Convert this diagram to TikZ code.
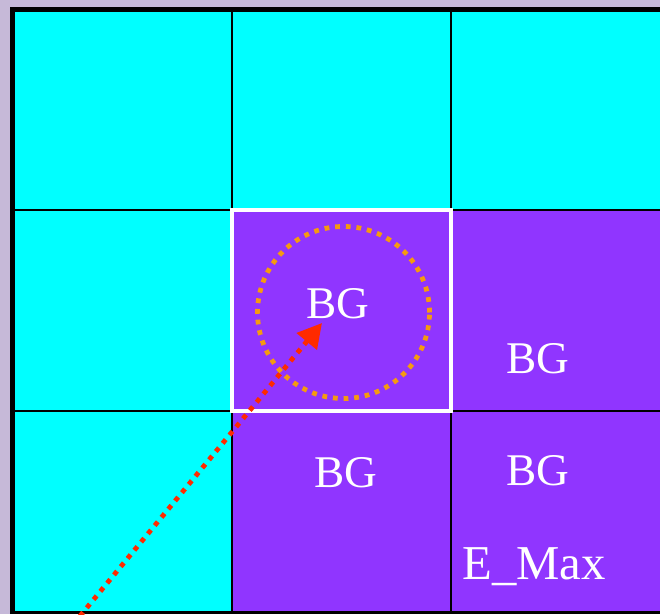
\documentclass[tikz,border=0pt]{standalone}
\usepackage{fontspec}
\setmainfont{Liberation Serif}
\usetikzlibrary{arrows.meta}
\definecolor{bgl}{HTML}{C6B9D8}
\definecolor{cy}{HTML}{00FFFF}
\definecolor{pu}{HTML}{9035FF}
\definecolor{rd}{HTML}{FF2A00}
\definecolor{org}{HTML}{F59A10}
\tikzset{
  cyancell/.style={fill=cy},
  purplecell/.style={fill=pu},
  gridline/.style={draw=black, line width=2pt},
  lbl/.style={text=white, font=\fontsize{34}{36}\selectfont, inner sep=0pt},
  dotline/.style={line width=3.6pt, dash pattern=on 3.6pt off 4.4pt}
}
\begin{document}
\begin{tikzpicture}[x=0.75pt,y=-0.75pt]
\useasboundingbox (0,0) rectangle (660,614);
\fill[bgl] (0,0) rectangle (660,614);
\begin{scope}
\clip (0,0) rectangle (660,614);
% cells
\fill[cyancell] (12,10) rectangle (232,210);
\fill[cyancell] (232,10) rectangle (451,210);
\fill[cyancell] (451,10) rectangle (680,210);
\fill[cyancell] (12,210) rectangle (232,411);
\fill[purplecell] (232,210) rectangle (451,411);
\fill[purplecell] (451,210) rectangle (680,411);
\fill[cyancell] (12,411) rectangle (232,612);
\fill[purplecell] (232,411) rectangle (451,612);
\fill[purplecell] (451,411) rectangle (680,612);
% grid
\draw[gridline] (232,10) -- (232,612);
\draw[gridline] (451,10) -- (451,612);
\draw[gridline] (12,210) -- (680,210);
\draw[gridline] (12,411) -- (680,411);
\draw[black, line width=2.4pt] (12,612.5) -- (680,612.5);
\draw[black, line width=4pt] (10,9.5) -- (680,9.5);
\draw[black, line width=4pt] (12.5,7) -- (12.5,614);
% highlighted cell
\draw[white, line width=2.8pt] (232,210) rectangle (451,411);
% orange dotted circle
\node[draw=org, dotline, circle, minimum size=172*0.75pt, inner sep=0pt] (ring) at (343.5,312.5) {};
% labels
\node[lbl] (bg1) at (338,304) {BG};
\node[lbl] (bg2) at (538,359) {BG};
\node[lbl] (bg3) at (346,473) {BG};
\node[lbl] (bg4) at (538,471) {BG};
\node[lbl, font=\fontsize{36.5}{38}\selectfont] (emax) at (534,567) {E\_Max};
% red dotted arrow
\coordinate (s) at (80,616);
\coordinate (t) at (322,323);
\draw[rd, dotline, -{Triangle[length=18pt,width=19pt]}] (s) -- (t);
\end{scope}
\end{tikzpicture}
\end{document}
